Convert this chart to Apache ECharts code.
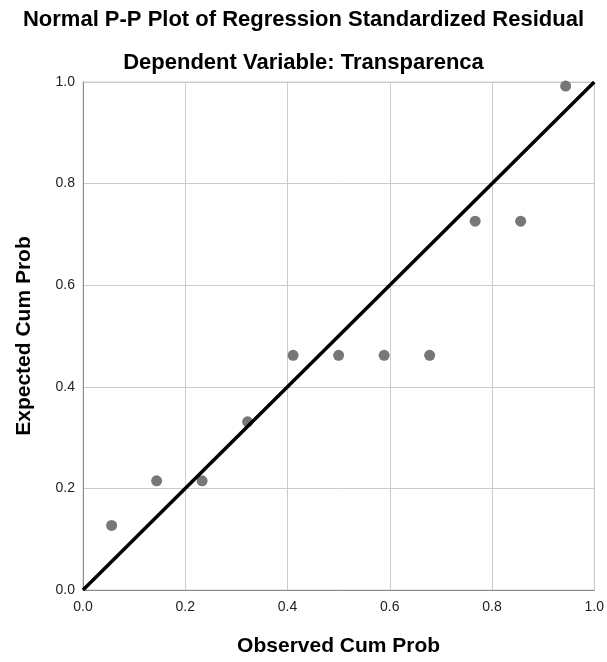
<!DOCTYPE html>
<html><head><meta charset="utf-8">
<script src="https://cdn.jsdelivr.net/npm/echarts@6/dist/echarts.min.js"></script>
<style>html,body{margin:0;padding:0;background:#fff}#c{width:607px;height:662px}</style>
</head><body><div id="c"></div>
<script>
const observed = [0.056, 0.144, 0.233, 0.322, 0.411, 0.500, 0.589, 0.678, 0.767, 0.856, 0.944];
const expected = [0.127, 0.215, 0.215, 0.331, 0.462, 0.462, 0.462, 0.462, 0.726, 0.726, 0.992];
const refLine = [[0, 0], [1, 1]];
const titleText = 'Normal P-P Plot of Regression Standardized Residual';
const subText = 'Dependent Variable: Transparenca';
const xName = 'Observed Cum Prob';
const yName = 'Expected Cum Prob';

const font = '"Liberation Sans", Arial, sans-serif';
const chart = echarts.init(document.getElementById('c'));
chart.setOption({
  animation: false,
  title: [
    {text: titleText, left: 'center', top: 4, textStyle: {fontFamily: font, fontSize: 22, fontWeight: 'bold', color: '#000'}},
    {text: subText, left: 'center', top: 47, textStyle: {fontFamily: font, fontSize: 22, fontWeight: 'bold', color: '#000'}}
  ],
  grid: {left: 83, right: 11, top: 82, bottom: 69, containLabel: false, show: true, borderColor: '#ccc', borderWidth: 1},
  xAxis: {
    type: 'value', min: 0, max: 1, interval: 0.2,
    name: xName, nameLocation: 'middle', nameGap: 46,
    nameTextStyle: {fontFamily: font, fontSize: 21, fontWeight: 'bold', color: '#000'},
    axisLine: {show: true, lineStyle: {color: '#8c8c8c', width: 1}},
    axisTick: {show: false},
    axisLabel: {fontFamily: font, fontSize: 14, color: '#222', margin: 10, formatter: v => v.toFixed(1)},
    splitLine: {show: true, lineStyle: {color: '#ccc', width: 1}}
  },
  yAxis: {
    type: 'value', min: 0, max: 1, interval: 0.2,
    name: yName, nameLocation: 'middle', nameGap: 48,
    nameTextStyle: {fontFamily: font, fontSize: 21, fontWeight: 'bold', color: '#000'},
    axisLine: {show: true, lineStyle: {color: '#8c8c8c', width: 1}},
    axisTick: {show: false},
    axisLabel: {fontFamily: font, fontSize: 14, color: '#222', margin: 8, formatter: v => v.toFixed(1)},
    splitLine: {show: true, lineStyle: {color: '#ccc', width: 1}}
  },
  series: [
    {type: 'line', data: refLine, symbol: 'none', lineStyle: {color: '#000', width: 3.5}, z: 3, silent: true},
    {type: 'scatter', data: observed.map((x, i) => [x, expected[i]]), symbolSize: 11, itemStyle: {color: '#777', opacity: 1}, z: 2}
  ]
});
</script></body></html>
